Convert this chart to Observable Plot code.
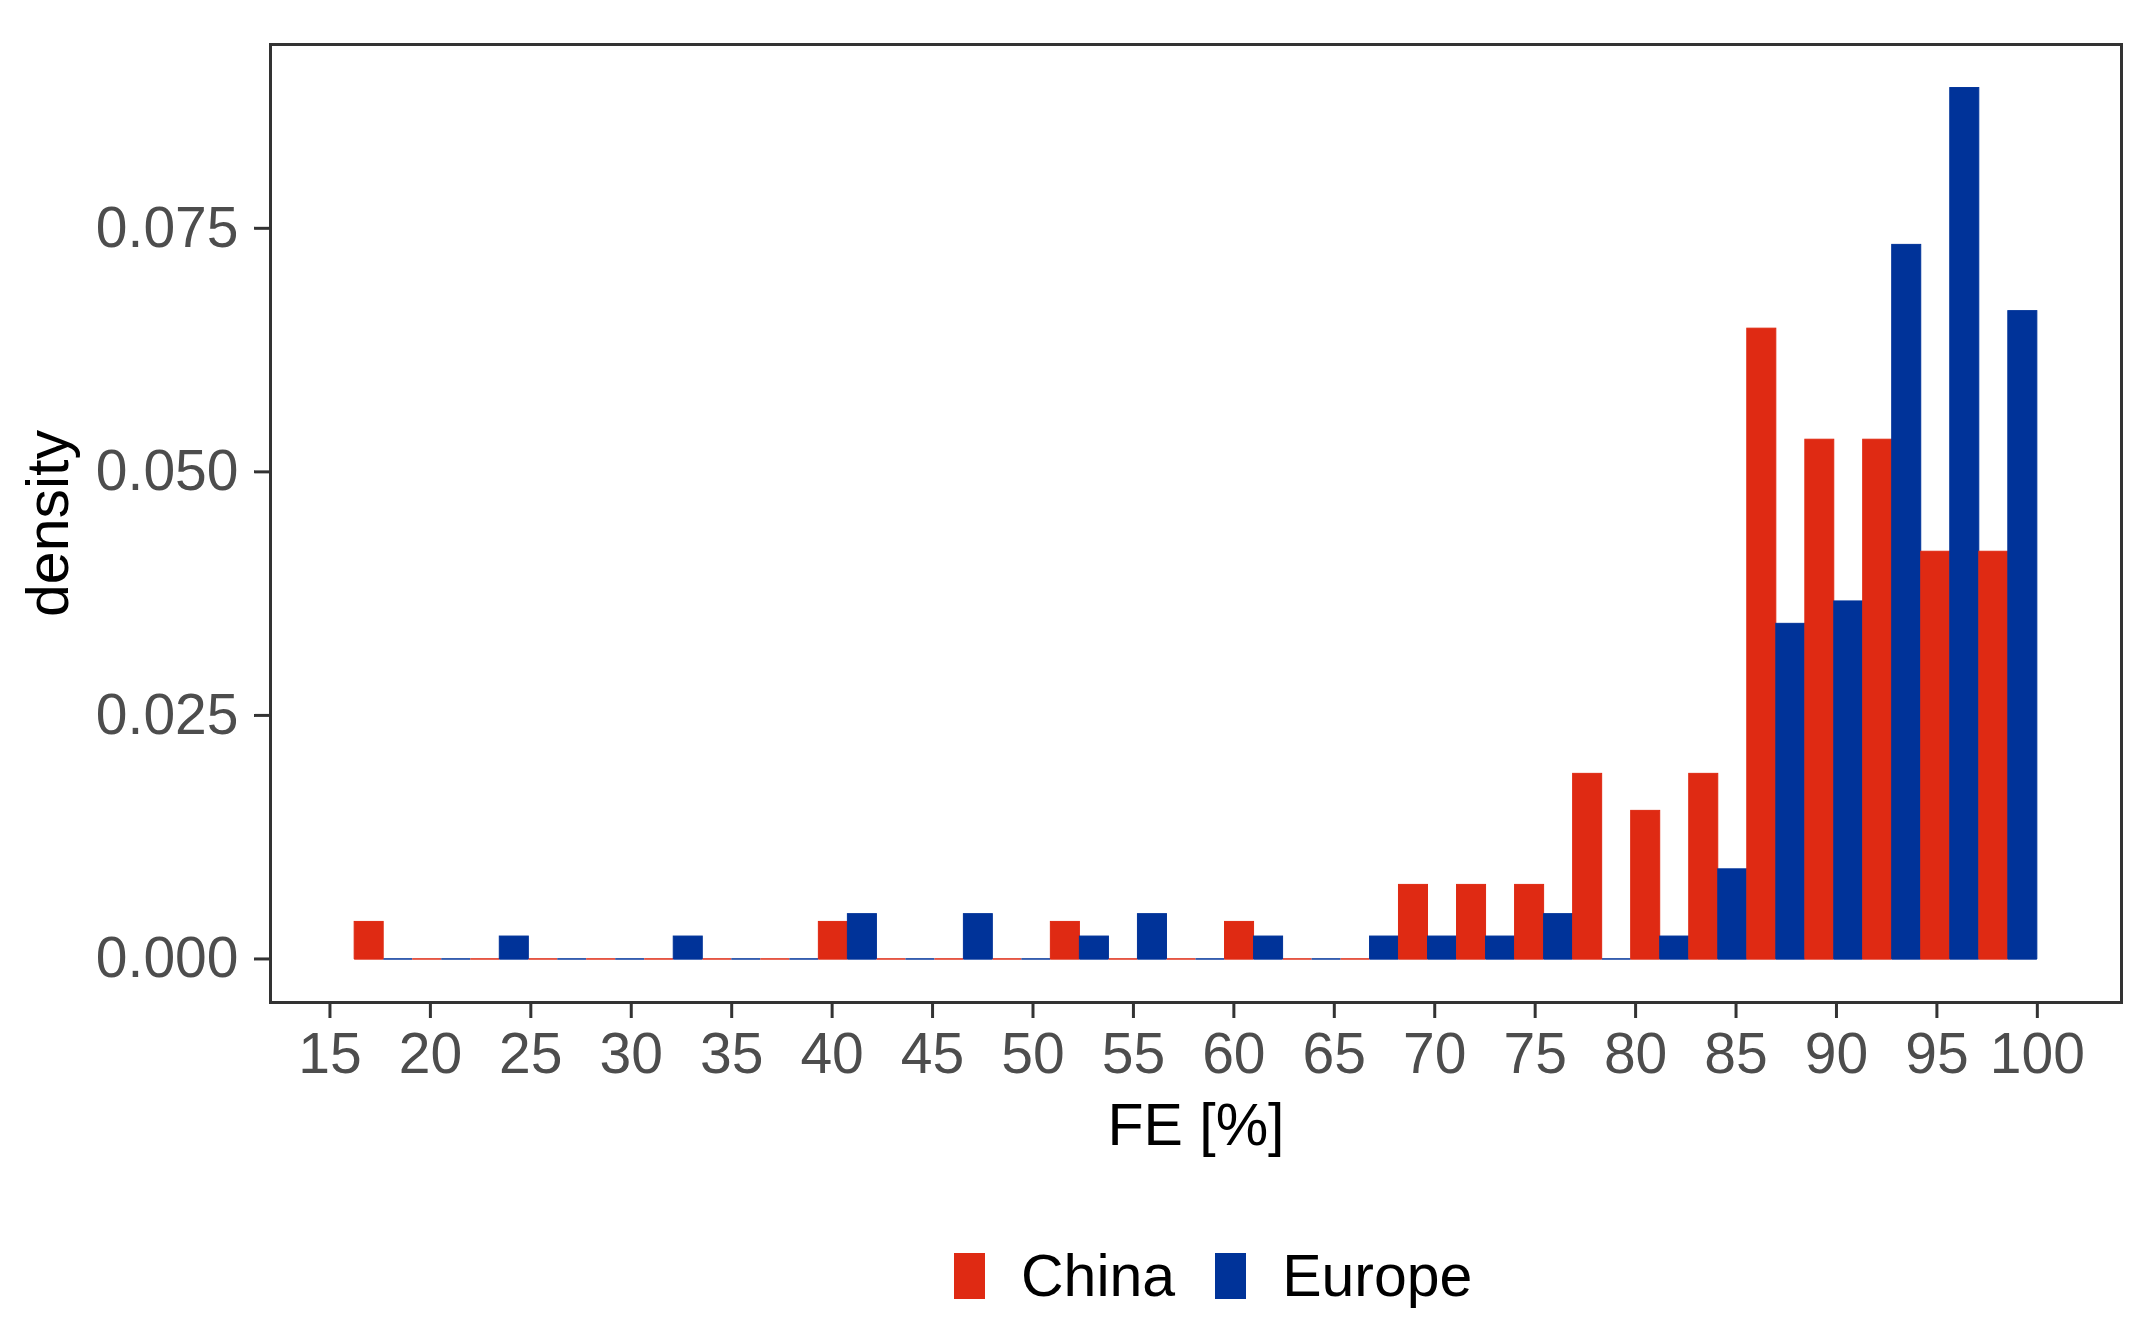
<!DOCTYPE html>
<html><head><meta charset="utf-8">
<script src="https://cdn.jsdelivr.net/npm/d3@7"></script>
<script src="https://cdn.jsdelivr.net/npm/@observablehq/plot@0.6"></script>
<style>
html,body{margin:0;padding:0;background:#fff;}
body{width:2155px;height:1328px;position:relative;font-family:"Liberation Sans",Arial,sans-serif;overflow:hidden;}
#chart{position:absolute;left:0;top:0;}
#legend{position:absolute;top:1253px;left:954px;display:flex;align-items:center;height:46px;}
.key{width:31px;height:46px;flex:none;}
.lab{font-size:59px;color:#000;line-height:46px;white-space:nowrap;}
</style></head><body>
<div id="chart"></div>
<div id="legend"></div>
<script>
// Bin edges of the histogram (FE %)
const binEdges = [16.23, 19.12, 22.01, 24.90, 27.78, 30.67, 33.56, 36.45, 39.34, 42.23,
  45.12, 48.00, 50.89, 53.78, 56.67, 59.56, 62.45, 65.34, 68.22, 71.11,
  74.00, 76.89, 79.78, 82.67, 85.56, 88.45, 91.33, 94.22, 97.11, 100.00];
// Densities per bin
const chinaDensity = [0.0038, 0, 0, 0, 0, 0, 0, 0, 0.0038, 0,
  0, 0, 0.0038, 0, 0, 0.0038, 0, 0, 0.0076, 0.0076,
  0.0076, 0.0190, 0.0152, 0.0190, 0.0647, 0.0533, 0.0533, 0.0418, 0.0418];
const europeDensity = [0, 0, 0.0023, 0, 0, 0.0023, 0, 0, 0.0046, 0,
  0.0046, 0, 0.0023, 0.0046, 0, 0.0023, 0, 0.0023, 0.0023, 0.0023,
  0.0046, 0, 0.0023, 0.0092, 0.0344, 0.0367, 0.0733, 0.0894, 0.0665];
const groups = ["China", "Europe"];
const groupColors = ["#DF2A13", "#003399"];
const xTicks = [15, 20, 25, 30, 35, 40, 45, 50, 55, 60, 65, 70, 75, 80, 85, 90, 95, 100];
const yTicks = [0, 0.025, 0.05, 0.075];
const xTitle = "FE [%]";
const yTitle = "density";

// Dodged bars: China in the left half of each bin, Europe in the right half
const rows = [];
for (let i = 0; i < chinaDensity.length; i++) {
  const a = binEdges[i], b = binEdges[i + 1], m = (a + b) / 2;
  rows.push({x1: a, x2: m, density: chinaDensity[i], group: groups[0]});
  rows.push({x1: m, x2: b, density: europeDensity[i], group: groups[1]});
}

const W = 2155, H = 1180;
const chart = Plot.plot({
  width: W, height: H,
  marginLeft: 270, marginRight: 34, marginTop: 44, marginBottom: 178,
  style: {fontFamily: "'Liberation Sans', Arial, sans-serif", background: "white", overflow: "visible"},
  x: {type: "linear", domain: [12.04, 104.19]},
  y: {domain: [-0.00447, 0.09387]},
  color: {domain: groups, range: groupColors},
  marks: [
    Plot.ruleY(rows, {x1: "x1", x2: "x2", y: 0, stroke: "group", strokeWidth: 1.5}),
    Plot.rect(rows.filter(d => d.density > 0), {x1: "x1", x2: "x2", y1: 0, y2: "density", fill: "group", stroke: "group", strokeWidth: 1, inset: 0}),
    Plot.frame({stroke: "#333333", strokeWidth: 3}),
    Plot.axisX(xTicks, {anchor: "bottom", tickSize: 16, tickPadding: 14, fontSize: 57, stroke: "#333333", strokeWidth: 3, fill: "#4D4D4D", label: null, tickFormat: d => String(d)}),
    Plot.axisY(yTicks, {anchor: "left", tickSize: 16, tickPadding: 16, fontSize: 57, stroke: "#333333", strokeWidth: 3, fill: "#4D4D4D", label: null, tickFormat: d3.format(".3f")}),
    Plot.text([xTitle], {text: d => d, frameAnchor: "bottom", textAnchor: "middle", dy: 142, fontSize: 59, fill: "black"}),
    Plot.text([yTitle], {text: d => d, frameAnchor: "left", textAnchor: "middle", rotate: -90, dx: -221, fontSize: 59, fill: "black"})
  ]
});
document.getElementById("chart").appendChild(chart);

// Legend
const legend = document.getElementById("legend");
groups.forEach((g, i) => {
  const key = document.createElement("div");
  key.className = "key";
  key.style.background = groupColors[i];
  key.style.marginLeft = i === 0 ? "0px" : "40px";
  const lab = document.createElement("div");
  lab.className = "lab";
  lab.style.marginLeft = "36px";
  lab.textContent = g;
  legend.appendChild(key);
  legend.appendChild(lab);
});
</script>
</body></html>
